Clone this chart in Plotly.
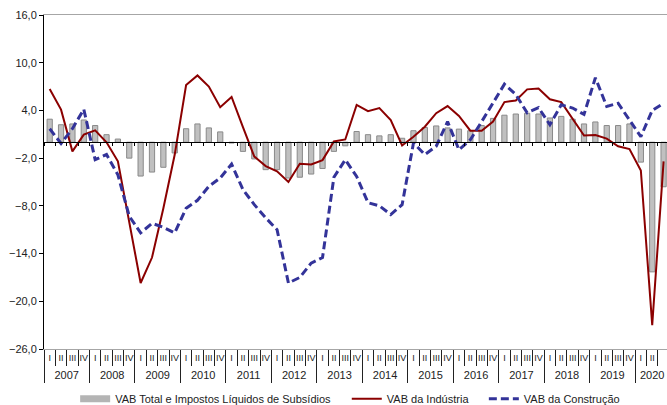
import plotly.graph_objects as go

years = [str(y) for y in range(2007, 2021)]
quarter_names = ["I", "II", "III", "IV"]
n_quarters = 55
quarter_labels = [quarter_names[i % 4] for i in range(n_quarters)]

vab_total = [2.9, 2.2, 2.3, 2.8, 2.1, 0.95, 0.4, -2.0,
             -4.25, -3.75, -3.15, -1.35, 1.7, 2.3, 1.8, 1.3,
             -0.1, -1.15, -2.1, -3.45, -3.45, -4.5, -4.4, -4.0,
             -3.3, -1.15, -0.45, 1.35, 0.95, 0.8, 0.95, 0.5,
             1.45, 1.85, 2.05, 1.8, 1.65, 1.45, 2.1, 3.0,
             3.4, 3.55, 3.65, 3.55, 3.05, 3.25, 2.9, 2.3,
             2.55, 2.1, 2.1, 2.3, -2.5, -16.3, -5.6]

vab_industria = [6.7, 4.1, -1.15, 0.95, 1.5, 0.0, -2.4, -10.0,
                 -17.7, -14.5, -8.3, -1.55, 7.2, 8.4, 7.0, 4.4,
                 5.7, 1.9, -1.8, -3.0, -3.65, -5.0, -2.7, -2.8,
                 -2.25, 0.1, 0.35, 4.7, 3.9, 4.3, 2.8, -0.4,
                 0.7, 1.95, 3.65, 4.55, 3.3, 1.45, 1.45, 2.6,
                 5.05, 5.25, 6.65, 6.75, 5.4, 5.05, 2.95, 0.85,
                 0.9, 0.45, -0.5, -0.85, -3.55, -23.0, -2.4]

vab_construcao = [1.7, -0.15, 1.7, 4.15, -2.2, -1.55, -4.1, -9.3,
                  -11.4, -10.2, -10.7, -11.4, -8.3, -7.3, -5.55, -4.5,
                  -2.75, -5.95, -7.85, -9.5, -11.0, -17.7, -17.0, -15.2,
                  -14.5, -4.4, -2.2, -4.3, -7.6, -8.0, -9.1, -7.85,
                  -0.1, -1.55, -0.5, 2.6, -0.95, 0.3, 2.6, 4.9,
                  7.3, 6.0, 3.7, 4.35, 2.2, 4.7, 4.3, 3.5,
                  8.1, 4.5, 4.9, 2.8, 0.7, 4.0, 4.9]

series_names = ["VAB Total e Impostos Líquidos de Subsídios",
                "VAB da Indústria", "VAB da Construção"]

x = list(range(n_quarters))
year_centers = [min(4 * k + 1.5, (4 * k + n_quarters - 1) / 2) for k in range(len(years))]

FONT = "Liberation Sans, Arial, sans-serif"
fig = go.Figure()

fig.add_trace(go.Bar(
    x=x, y=vab_total, name=series_names[0], showlegend=False,
    marker=dict(color="#c0c0c0", line=dict(color="#8a8a8a", width=1)),
    width=0.46,
))
# legend proxy for the bar series
fig.add_trace(go.Scatter(
    x=[None], y=[None], mode="lines", name=series_names[0],
    line=dict(color="#b4b4b4", width=7), legend="legend",
))
fig.add_trace(go.Scatter(
    x=x, y=vab_industria, mode="lines", name=series_names[1],
    line=dict(color="#8b0000", width=2), legend="legend2",
))
fig.add_trace(go.Scatter(
    x=x, y=vab_construcao, mode="lines", name=series_names[2],
    line=dict(color="#333399", width=3, dash="8px,4px"), legend="legend3",
))

xr = [-0.5, 54.3]
zero_pos = (0 - (-26)) / (16 - (-26))

fig.update_layout(
    width=667, height=405,
    margin=dict(l=44, r=0, t=15, b=56, autoexpand=False),
    paper_bgcolor="white", plot_bgcolor="white",
    separators=", ",
    font=dict(family=FONT, size=11, color="#222222"),
    bargap=0.5,
    xaxis=dict(
        range=xr, showgrid=False, zeroline=False, automargin=False,
        showline=True, linecolor="#a6a6a6", linewidth=1, mirror=True,
        tickmode="array", tickvals=x, ticktext=quarter_labels,
        ticks="", tickfont=dict(size=9, color="#222222"),
        minor=dict(tickmode="linear", tick0=-0.5, dtick=1, ticks="outside",
                   ticklen=16, tickcolor="#222222", tickwidth=1),
    ),
    xaxis2=dict(
        overlaying="x", anchor="free", position=zero_pos, side="bottom",
        range=xr, showgrid=False, zeroline=False, showline=True, automargin=False,
        linecolor="black", linewidth=1,
        tickmode="linear", tick0=-0.5, dtick=1, ticks="outside",
        ticklen=3, tickcolor="black", showticklabels=False,
    ),
    xaxis3=dict(
        overlaying="x", anchor="y", side="bottom", automargin=False,
        range=xr, showgrid=False, zeroline=False, showline=False,
        tickmode="array", tickvals=year_centers, ticktext=years,
        ticks="", ticklabelstandoff=18, tickfont=dict(size=11, color="#222222"),
        minor=dict(tickmode="linear", tick0=-0.5, dtick=4, ticks="outside",
                   ticklen=33, tickcolor="#222222", tickwidth=1),
    ),
    yaxis=dict(
        range=[-26, 16], tick0=-26, dtick=6, tickmode="linear", automargin=False,
        tickformat=".1f", showgrid=False, zeroline=False,
        showline=True, linecolor="black", linewidth=1,
        ticks="outside", ticklen=4, tickcolor="black",
        tickfont=dict(size=11, color="#222222"),
    ),
    legend=dict(orientation="h", x=0.05, y=-0.149, xanchor="left", yanchor="middle",
                font=dict(size=11), itemwidth=30, bgcolor="rgba(0,0,0,0)"),
    legend2=dict(orientation="h", x=0.486, y=-0.149, xanchor="left", yanchor="middle",
                 font=dict(size=11), itemwidth=30, bgcolor="rgba(0,0,0,0)"),
    legend3=dict(orientation="h", x=0.706, y=-0.149, xanchor="left", yanchor="middle",
                 font=dict(size=11), itemwidth=30, bgcolor="rgba(0,0,0,0)"),
)

# invisible traces to activate the overlay axes
fig.add_trace(go.Scatter(x=[None], y=[None], xaxis="x2", showlegend=False, hoverinfo="skip"))
fig.add_trace(go.Scatter(x=[None], y=[None], xaxis="x3", showlegend=False, hoverinfo="skip"))

fig.write_html("out.html")
